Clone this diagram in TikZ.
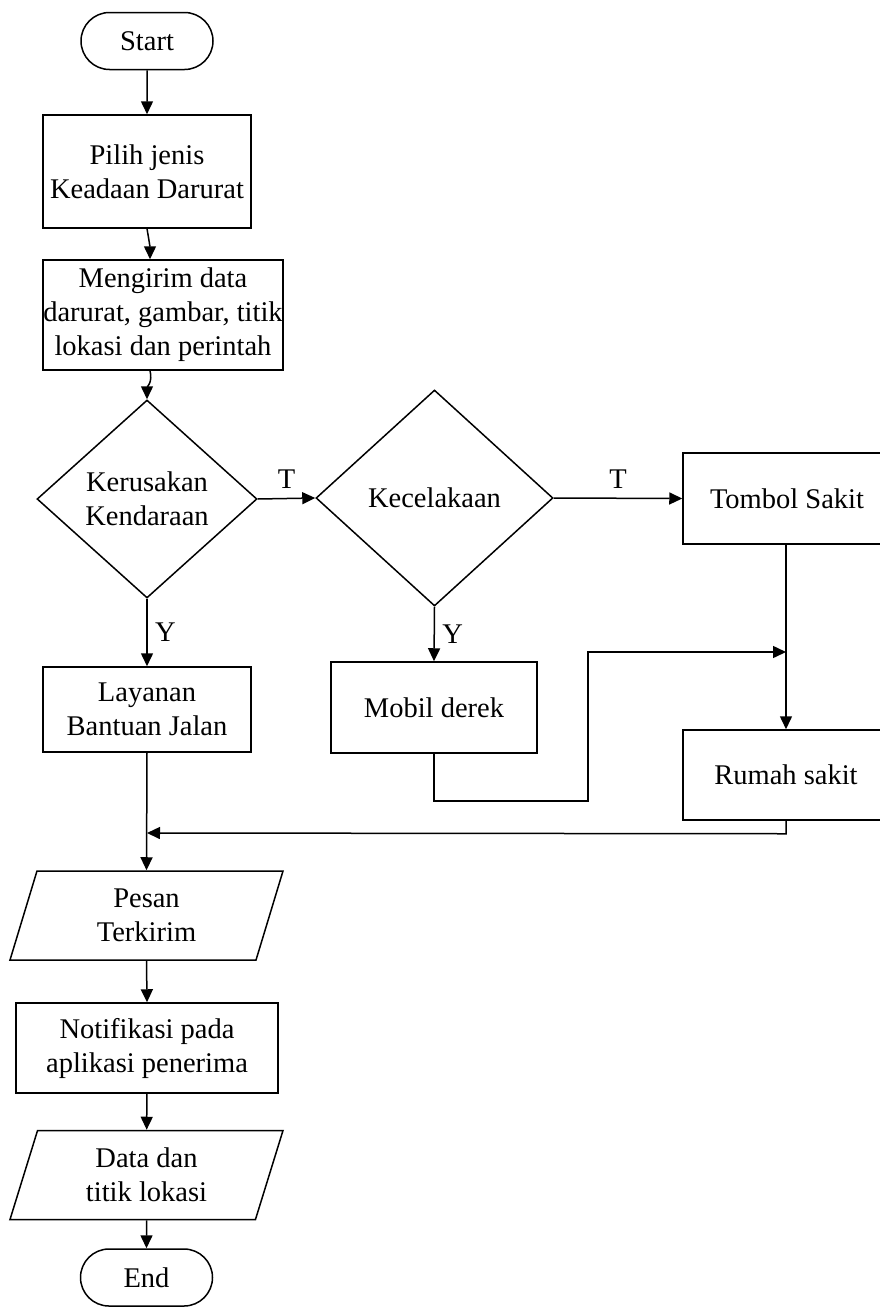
\documentclass[tikz,border=0pt]{standalone}
\usepackage{fontspec}
\setmainfont{Liberation Serif}
\usetikzlibrary{arrows.meta,shapes.geometric,shapes.misc,calc}

\begin{document}
\begin{tikzpicture}[x=1pt, y=-1pt, line width=1.5pt,
    font=\fontsize{28.5}{34}\selectfont, align=center,
    terminal/.style={draw, rounded rectangle, minimum width=132pt, minimum height=57pt, inner sep=0pt},
    process/.style={draw, rectangle, inner sep=0pt},
    decision/.style={draw, diamond, inner sep=0pt},
    io/.style={draw, trapezium, trapezium left angle=63, trapezium right angle=117,
        trapezium stretches body, minimum width=273pt, minimum height=89pt, inner sep=0pt},
    arr/.style={-{Triangle[length=13pt,width=12pt]}}]

    % Rahmen
    \useasboundingbox (0,0) rectangle (880,1309);
    \clip (0,0) rectangle (880,1309);

    % Knoten
    \node[terminal] (start) at (147,41) {Start};
    \node[process, minimum width=208pt, minimum height=113pt] (pilih) at (147,171.5)
        {Pilih jenis\\Keadaan Darurat};
    \node[process, minimum width=240pt, minimum height=110pt] (kirim) at (163,315)
        {Mengirim data\\darurat, gambar, titik\\lokasi dan perintah};
    \node[decision, minimum width=220pt, minimum height=198pt] (rusak) at (147,499)
        {Kerusakan\\Kendaraan};
    \node[decision, minimum width=237pt, minimum height=216pt] (celaka) at (434.5,498)
        {Kecelakaan};
    \node[process, minimum width=208pt, minimum height=91pt] (tombol) at (787,498.5)
        {Tombol Sakit};
    \node[process, minimum width=208pt, minimum height=85pt] (layanan) at (147,709.5)
        {Layanan\\Bantuan Jalan};
    \node[process, minimum width=206pt, minimum height=91pt] (derek) at (434,707.5)
        {Mobil derek};
    \node[process, minimum width=206pt, minimum height=90pt] (rumah) at (786,775)
        {Rumah sakit};
    \node[io] (pesan) at (146.5,915.5) {Pesan\\Terkirim};
    \node[process, minimum width=262pt, minimum height=90pt] (notif) at (147,1048)
        {Notifikasi pada\\aplikasi penerima};
    \node[io] (data) at (146.5,1175) {Data dan\\titik lokasi};
    \node[terminal] (end) at (146.5,1277.5) {End};

    % Hilfspunkte
    \coordinate (join1) at (rumah.north |- 0,652);
    \coordinate (join2) at (layanan.south |- 0,833);

    % Verbindungen
    \draw[arr] (start) -- (pilih);
    \draw[arr] (pilih.south) to[out=-80, in=90] ([xshift=-13pt]kirim.north);
    \draw[arr] ([xshift=-13pt]kirim.south) to[out=-75, in=90] (rusak.north);
    \draw[arr] (rusak.east) -- node[above=6pt] {T} (celaka.west);
    \draw[arr] (celaka.east) -- node[above=6pt] {T} (tombol.west);
    \draw[arr] (rusak.south) -- node[right=4pt] {Y} (layanan.north);
    \draw[arr] (celaka.south) -- node[right=4pt] {Y} (derek.north);
    \draw[arr] (tombol.south -| rumah.north) -- (rumah.north);
    \draw[arr] (derek.south) -- ++(0,47) -| (588,652) -- (join1);
    \draw[arr] (rumah.south) -- ++(0,13) -- (join2);
    \draw[arr] (layanan.south) -- (pesan.north);
    \draw[arr] (pesan.south) -- (notif.north);
    \draw[arr] (notif) -- (data);
    \draw[arr] (data.south) -- (end.north);

\end{tikzpicture}
\end{document}
